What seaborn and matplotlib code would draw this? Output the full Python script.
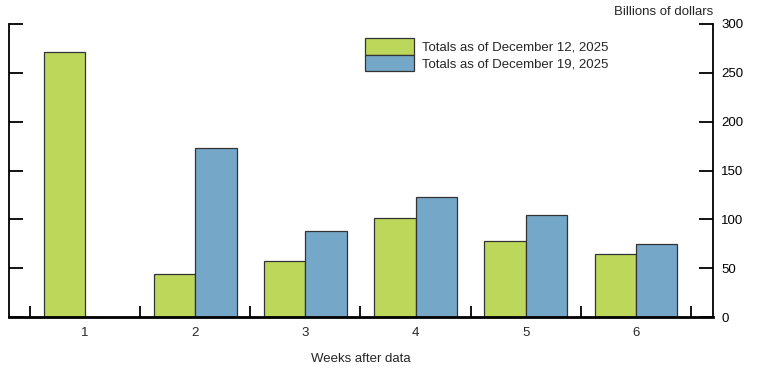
import pandas as pd
import numpy as np
import matplotlib.pyplot as plt
import matplotlib.ticker as mticker
import seaborn as sns

weeks = ['1', '2', '3', '4', '5', '6']
dec12 = [271, 44, 57, 101, 78, 65]
dec19 = [np.nan, 173, 88, 123, 104, 75]
series_names = ['Totals as of December 12, 2025', 'Totals as of December 19, 2025']
colors = ['#BDD75A', '#74A7C8']

df = pd.DataFrame({
    'week': weeks * 2,
    'value': dec12 + dec19,
    'series': [series_names[0]] * 6 + [series_names[1]] * 6,
})

sns.set_style('white')
plt.rcParams['font.family'] = ['Liberation Sans', 'DejaVu Sans']

fig = plt.figure(figsize=(7.61, 3.81), dpi=100)
ax = fig.add_axes([9 / 761, 1 - 317 / 381, 704 / 761, 293 / 381])

sns.barplot(data=df, x='week', y='value', hue='series', hue_order=series_names,
            palette=colors, width=0.75, edgecolor='#333333', linewidth=0.9,
            saturation=1, ax=ax)

ax.set_xlim(-0.69, 5.70)
ax.set_ylim(0, 300)
ax.set_yticks([0, 50, 100, 150, 200, 250, 300])

for s in ['left', 'right', 'bottom']:
    ax.spines[s].set_visible(True)
    ax.spines[s].set_color('black')
    ax.spines[s].set_linewidth(1.3)
ax.spines['bottom'].set_linewidth(2)
ax.spines['top'].set_visible(False)

ax.tick_params(axis='y', left=True, right=True, labelleft=False, labelright=True,
               direction='in', length=10, width=1.3, pad=6, labelsize=9.5, colors='black')
ax.tick_params(axis='x', which='major', length=0, pad=7, labelsize=9.5)
ax.xaxis.set_minor_locator(mticker.FixedLocator(np.arange(-0.5, 6, 1)))
ax.tick_params(axis='x', which='minor', bottom=True, direction='in', length=8, width=1.3,
               color='black')

ax.set_xlabel('Weeks after data', fontsize=9.5, labelpad=10)
ax.set_ylabel('')
fig.text(713 / 761, 1 - 12 / 381, 'Billions of dollars', ha='right', va='center', fontsize=9.5)

ax.legend(loc='upper left', bbox_to_anchor=((365 - 9) / 704, (317 - 38) / 293),
          frameon=False, fontsize=9.5, handlelength=3.7, handleheight=1.55,
          labelspacing=0, handletextpad=0.6, borderpad=0, borderaxespad=0)

fig.savefig('out.png', dpi=100)
